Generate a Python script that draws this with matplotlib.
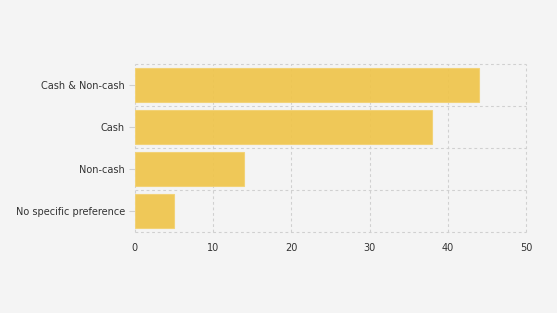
import numpy as np
import matplotlib.pyplot as plt

categories = ['Cash & Non-cash', 'Cash', 'Non-cash', 'No specific preference']
values = [44, 38, 14, 5]
xticks = [0, 10, 20, 30, 40, 50]

bg = '#f4f4f4'
fig = plt.figure(figsize=(5.57, 3.13), dpi=100, facecolor=bg)
ax = fig.add_axes([0.2415, 0.2588, 0.7037, 0.5367], facecolor=bg)

# dashed grid at band edges and at x ticks (not clipped so the edges show)
grid_kw = dict(linestyle=(0, (2.5, 2.5)), color='#d0d0d0', linewidth=0.8, zorder=1, clip_on=False)
for yb in np.arange(-0.5, len(categories)):
    ax.axhline(yb, **grid_kw)
for xt in xticks:
    ax.axvline(xt, **grid_kw)

y = np.arange(len(categories))
ax.barh(y, values, height=0.8, color='#efc54c', alpha=0.93,
        edgecolor='#f3d274', linewidth=0.8, zorder=2)

ax.set_xlim(0, 50)
ax.set_ylim(len(categories) - 0.5, -0.5)
ax.set_xticks(xticks)
ax.set_yticks(y)
ax.set_yticklabels(categories)

ax.tick_params(axis='y', length=4, color='#d0d0d0', labelsize=7, labelcolor='#333333', pad=3)
ax.tick_params(axis='x', length=0, labelsize=7, labelcolor='#333333', pad=8)

for s in ax.spines.values():
    s.set_visible(False)

fig.savefig('out.png', dpi=100, facecolor=bg)
